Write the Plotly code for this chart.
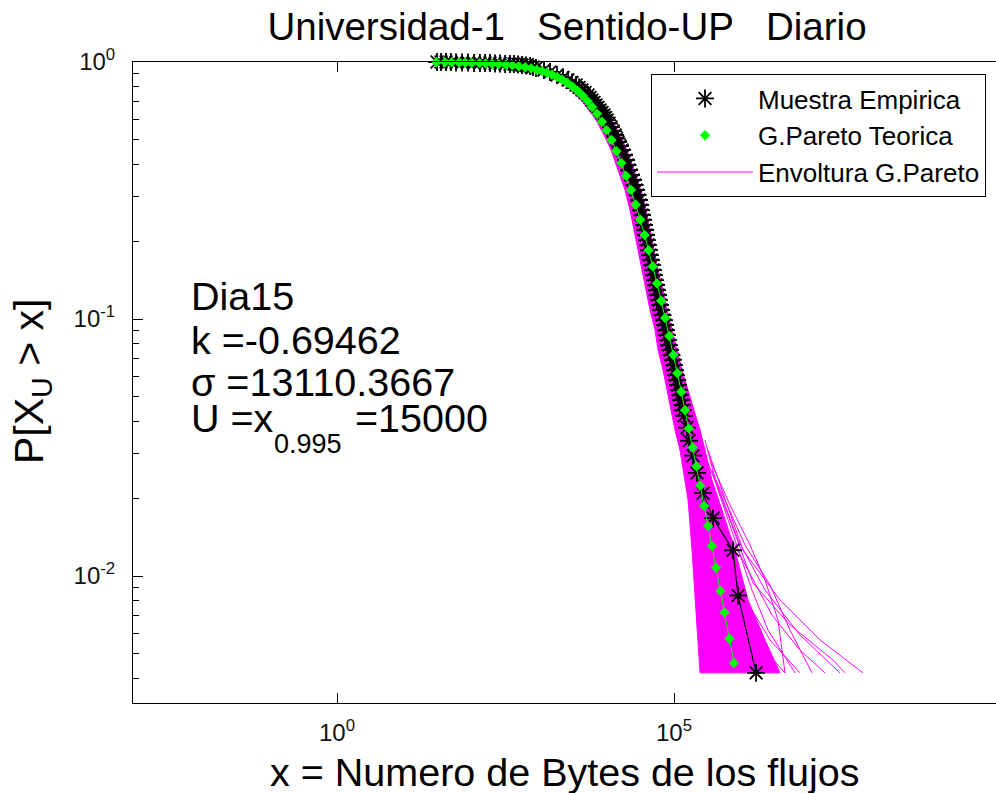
import plotly.graph_objects as go

FONT = "Liberation Sans, Arial, Helvetica, sans-serif"

# Muestra empirica: CCDF of the daily flow sizes (bytes)
emp_bytes = [30.5, 34.9, 41.4, 49.1, 58.3, 71.6, 87.9, 108, 132, 157, 186, 221, 262, 311, 369,
             423, 485, 556, 637, 731,
             809, 897, 1178, 1446, 1837, 2255, 2674, 3066, 3515, 3895, 4317, 4782, 5297, 5675,
             6073, 6504, 6961, 7455, 7980, 8546, 9149, 9632, 10140, 10855, 11620, 12446,
             13330, 14028, 14760, 15810, 16910, 18124, 19400, 20428, 21490, 23014, 24640,
             25939, 27290, 28733, 30270, 31330, 32380, 33510, 34670, 35880, 37150, 38440,
             39720, 41120, 42560, 44060, 45580, 47170, 48780, 50480, 52240, 54060, 55950,
             57940, 59840, 61940, 64120, 67500, 71120, 73450, 76030, 78750, 81470, 84300,
             87300, 91830, 96610, 100000, 103500, 107200, 110900, 114700, 118600, 122700,
             127100, 131500, 136100,
             140700, 156000, 167100, 191400, 219300, 269200, 379000, 750000, 891000, 1650000]
emp_prob = [1.0, 1.0, 1.0, 1.0, 0.9955, 0.9955, 0.9955, 0.9911, 0.9911, 0.9911, 0.9911, 0.9866,
            0.9866, 0.9823, 0.9823, 0.9823, 0.9779, 0.9735, 0.9691, 0.9648,
            0.9562, 0.9477, 0.9308, 0.9143, 0.8901, 0.8703, 0.8511, 0.8322, 0.8138, 0.7958,
            0.7781, 0.7610, 0.7438, 0.7276, 0.7112, 0.6957, 0.6800, 0.6652, 0.6503, 0.6362,
            0.6218, 0.6082, 0.5945, 0.5763, 0.5584, 0.5388, 0.5200, 0.5039, 0.4883, 0.4711,
            0.4546, 0.4346, 0.4157, 0.3974, 0.3800, 0.3634, 0.3475, 0.3322, 0.3177, 0.3037,
            0.2904, 0.2777, 0.2655, 0.2539, 0.2428, 0.2322, 0.2220, 0.2123, 0.2029, 0.1940,
            0.1855, 0.1774, 0.1696, 0.1622, 0.1551, 0.1483, 0.1418, 0.1356, 0.1296, 0.1240,
            0.1185, 0.1134, 0.1084, 0.1036, 0.0991, 0.0948, 0.0906, 0.0866, 0.0828, 0.0792,
            0.0757, 0.0724, 0.0693, 0.0662, 0.0633, 0.0605, 0.0579, 0.0554, 0.0529, 0.0506,
            0.0484, 0.0463, 0.0442,
            0.0420, 0.0378, 0.0336, 0.0294, 0.0252, 0.0210, 0.0168, 0.0126, 0.0084, 0.0042]

# G.Pareto teorica (k = -0.69462, sigma = 13110.3667)
gp_bytes = [30, 40, 50, 65, 80, 100, 130, 160, 200, 250, 320, 400, 500, 620, 760, 920, 1100,
            1300, 1550, 1850, 2200, 2600, 3100, 3700, 4400, 5200, 6100, 7200, 8500, 10000,
            11800, 14000, 16500, 19500, 23000, 27000, 31500, 36500, 42000, 48500, 56000, 64500,
            74000, 85000, 98000, 112000, 128000, 146000, 166000, 189000, 215000, 245000,
            280000, 320000, 365000, 420000, 489000, 561000, 664000, 775000]
gp_prob = [0.99772, 0.99696, 0.99620, 0.99506, 0.99393, 0.99242, 0.99017, 0.98792, 0.98494,
           0.98124, 0.97609, 0.97026, 0.96306, 0.95454, 0.94476, 0.93378, 0.92169, 0.90856,
           0.89261, 0.87404, 0.85324, 0.83043, 0.80338, 0.77285, 0.73958, 0.70446, 0.66822,
           0.62847, 0.58553, 0.54302, 0.49691, 0.44922, 0.40496, 0.36007, 0.31754, 0.27845,
           0.24336, 0.21239, 0.18533, 0.16013, 0.13758, 0.11783, 0.10087, 0.08588, 0.07245,
           0.06157, 0.05215, 0.04416, 0.03746, 0.03163, 0.02670, 0.02244, 0.01875, 0.01565,
           0.01308, 0.01078, 0.00874, 0.00721, 0.00570, 0.00459]

# Envoltura G.Pareto: dense band of simulated CCDFs (left / right edges, top to bottom)
env_left_bytes = [24.0, 438, 556, 809, 1262, 1837, 2965, 4170, 5482, 6961, 9149, 11620, 14760,
                  18750, 22230, 25520, 29240, 33510, 38440, 44060, 52240, 57940, 68700, 78750,
                  90160, 103500, 122700, 161400, 184900, 204900, 227000, 243200]
env_left_prob = [1.0, 0.9823, 0.9562, 0.9308, 0.8901, 0.8511, 0.7781, 0.7112, 0.6503, 0.5945,
                 0.5200, 0.4546, 0.3800, 0.3177, 0.2655, 0.2220, 0.1855, 0.1551, 0.1296, 0.1084,
                 0.0906, 0.0757, 0.0633, 0.0529, 0.0442, 0.0370, 0.0309, 0.0198, 0.0126,
                 0.00807, 0.00564, 0.0042]
env_right_bytes = [731, 809, 1028, 1397, 2180, 3172, 5118, 7211, 9470, 12030, 15810, 20080,
                   25520, 32380, 38440, 44060, 50480, 57940, 68700, 78750, 93330, 110900,
                   131500, 161400, 198000, 243000, 288000, 366000, 515000, 803000, 1253000,
                   2239000, 3740000]
env_right_prob = [1.0, 0.9823, 0.9562, 0.9308, 0.8901, 0.8511, 0.7781, 0.7112, 0.6503, 0.5945,
                  0.5200, 0.4546, 0.3800, 0.3177, 0.2655, 0.2220, 0.1855, 0.1551, 0.1296,
                  0.1084, 0.0906, 0.0757, 0.0633, 0.0529, 0.0442, 0.0370, 0.0309, 0.0236,
                  0.01806, 0.0126, 0.00807, 0.00564, 0.0042]

# Envoltura G.Pareto: individual simulated tails that leave the band
env_tail_bytes = [
    [3.19e5, 5.71e5, 1.056e6, 3.74e6, 1.466e7, 6.37e7],
    [2.88e5, 6.77e5, 1.486e6, 5.26e6, 2.285e7, 3.44e7],
    [3.66e5, 8.91e5, 2.239e6, 7.40e6, 2.90e7],
    [2.60e5, 5.15e5, 1.253e6, 2.84e6, 7.40e6, 1.739e7],
    [2.43e5, 4.50e5, 9.53e5, 2.655e6, 7.40e6],
    [4.20e5, 1.130e6, 2.655e6, 5.26e6, 1.115e7],
    [2.27e5, 3.66e5, 8.03e5, 1.887e6, 4.43e6],
    [2.43e5, 3.66e5, 6.32e5, 1.130e6, 1.887e6, 2.84e6],
    [2.88e5, 4.50e5, 8.03e5, 1.436e6, 2.48e6, 6.24e6],
    [3.42e5, 6.77e5, 1.341e6, 2.239e6, 3.49e6, 4.43e6],
]
env_tail_prob = [
    [0.0309, 0.0198, 0.0126, 0.00807, 0.00564, 0.0042],
    [0.0296, 0.0165, 0.00939, 0.00645, 0.00471, 0.0042],
    [0.0258, 0.0138, 0.00882, 0.00589, 0.0042],
    [0.0283, 0.0165, 0.01055, 0.00705, 0.00515, 0.0042],
    [0.0258, 0.0151, 0.00882, 0.00564, 0.0042],
    [0.0236, 0.0132, 0.00923, 0.00616, 0.0042],
    [0.0258, 0.0138, 0.00807, 0.00539, 0.0042],
    [0.0309, 0.0198, 0.0126, 0.00807, 0.00564, 0.0042],
    [0.0338, 0.0216, 0.0138, 0.00882, 0.00616, 0.0042],
    [0.0283, 0.0189, 0.0132, 0.00965, 0.00674, 0.0042],
]

MAGENTA = "#FF00FF"
GREEN = "#00FF00"

fig = go.Figure()

# envelope band
fig.add_trace(go.Scatter(
    x=env_left_bytes + env_right_bytes[::-1],
    y=env_left_prob + env_right_prob[::-1],
    mode="lines", fill="toself", fillcolor=MAGENTA,
    line=dict(color=MAGENTA, width=1),
    showlegend=False, hoverinfo="skip"))

for i, (bx, pr) in enumerate(zip(env_tail_bytes, env_tail_prob)):
    fig.add_trace(go.Scatter(
        x=bx, y=pr, mode="lines", line=dict(color=MAGENTA, width=1),
        name="Envoltura G.Pareto", legendgroup="env", legendrank=3,
        showlegend=(i == 0)))

# connecting lines (kept out of the legend, which shows the symbols only)
fig.add_trace(go.Scatter(x=emp_bytes, y=emp_prob, mode="lines",
                         line=dict(color="black", width=1.2), showlegend=False,
                         hoverinfo="skip"))
fig.add_trace(go.Scatter(
    x=emp_bytes, y=emp_prob, mode="markers", cliponaxis=False,
    marker=dict(symbol="asterisk-open", size=15, color="black",
                line=dict(color="black", width=1.8)),
    name="Muestra Empirica", legendrank=1))

fig.add_trace(go.Scatter(x=gp_bytes, y=gp_prob, mode="lines",
                         line=dict(color=GREEN, width=1), showlegend=False,
                         hoverinfo="skip", cliponaxis=False))
fig.add_trace(go.Scatter(
    x=gp_bytes, y=gp_prob, mode="markers", cliponaxis=False,
    marker=dict(symbol="diamond", size=8, color=GREEN, line=dict(width=0)),
    name="G.Pareto Teorica", legendrank=2))

y_minor = [m * 10.0 ** e for e in (-3, -2, -1) for m in range(2, 10)]

fig.update_layout(
    width=996, height=793,
    margin=dict(l=133, r=0, t=62, b=90),
    paper_bgcolor="white", plot_bgcolor="white",
    font=dict(family=FONT, color="black"),
    title=dict(text="Universidad-1\u00a0\u00a0\u00a0Sentido-UP\u00a0\u00a0\u00a0Diario",
               font=dict(size=38.5, family=FONT, color="black"),
               x=567 / 996, xanchor="center", xref="container",
               y=1 - 27 / 793, yanchor="middle", yref="container"),
    xaxis=dict(type="log", range=[-3.027, 9.777],
               tickmode="array", tickvals=[1, 1e5],
               ticktext=["10<sup>0</sup>", "10<sup>5</sup>"],
               ticks="inside", ticklen=10, tickcolor="black", tickwidth=1,
               showline=True, linecolor="black", linewidth=1, mirror="ticks",
               showgrid=False, zeroline=False,
               tickfont=dict(size=24, family=FONT, color="#111"),
               ticklabelstandoff=8),
    yaxis=dict(type="log", range=[-2.494, 0],
               tickmode="array", tickvals=[0.01, 0.1, 1],
               ticktext=["10<sup>-2</sup>", "10<sup>-1</sup>", "10<sup>0</sup>"],
               ticks="inside", ticklen=10, tickcolor="black", tickwidth=1,
               minor=dict(tickmode="array", tickvals=y_minor, ticks="inside",
                          ticklen=6, tickcolor="black", showgrid=False),
               showline=True, linecolor="black", linewidth=1, mirror=False,
               showgrid=False, zeroline=False,
               tickfont=dict(size=24, family=FONT, color="#111"),
               ticklabelstandoff=12),
    legend=dict(x=(651 - 133) / 863, y=(703 - 74) / 641, xanchor="left", yanchor="top",
                bgcolor="white", bordercolor="black", borderwidth=1,
                font=dict(size=26, family=FONT, color="black"),
                itemwidth=96, tracegroupgap=0),
    showlegend=True,
)


def px_x(px):
    return (px - 133) / 863


def px_y(py):
    return (703 - py) / 641


texts = [
    ("Dia15", 189, 296, 39.5),
    ("k =-0.69462", 189, 340, 39.5),
    ("\u03c3 =13110.3667", 189, 382, 39.5),
    ("U =x", 189, 418, 39.5),
    ("0.995", 272, 444, 27),
    ("=15000", 353, 418, 39.5),
]
for txt, ax, ay, fs in texts:
    fig.add_annotation(text=txt, x=px_x(ax), y=px_y(ay), xref="paper", yref="paper",
                       xanchor="left", yanchor="middle", showarrow=False,
                       font=dict(size=fs, family=FONT, color="black"))

fig.add_annotation(text="x = Numero de Bytes de los flujos", x=px_x(565), y=px_y(772),
                   xref="paper", yref="paper", xanchor="center", yanchor="middle",
                   showarrow=False, font=dict(size=39.5, family=FONT, color="black"))
fig.add_annotation(text="P[X<sub>U</sub> > x]", x=px_x(32), y=px_y(382),
                   xref="paper", yref="paper", xanchor="center", yanchor="middle",
                   textangle=-90, showarrow=False,
                   font=dict(size=41, family=FONT, color="black"))

fig.write_html("out.html", config={"displayModeBar": False})
